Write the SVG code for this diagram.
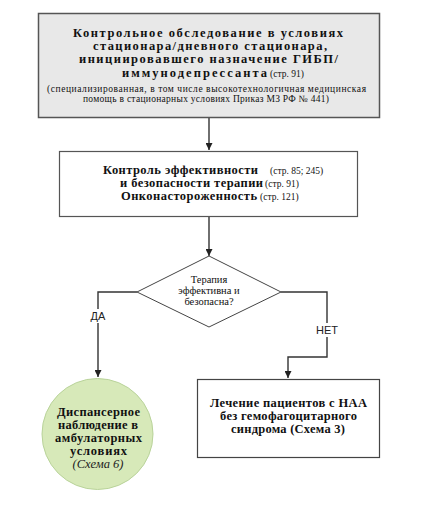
<svg xmlns="http://www.w3.org/2000/svg" width="422" height="506" viewBox="0 0 422 506">
<style>
.b{font-family:"Liberation Serif","DejaVu Serif",serif;font-weight:bold;font-size:12.5px;fill:#111}
.s{font-family:"Liberation Serif","DejaVu Serif",serif;font-size:9.5px;fill:#111}
.d{font-family:"Liberation Serif","DejaVu Serif",serif;font-size:10.5px;fill:#111}
.l{font-family:"Liberation Sans",Arial,sans-serif;font-size:11px;fill:#222}
.c{fill:none;stroke:#333;stroke-width:1.4}
</style>
<defs>
<marker id="ah" viewBox="0 0 10 10" refX="10" refY="5" markerWidth="7" markerHeight="7" markerUnits="userSpaceOnUse" orient="auto">
<path d="M0,0 L10,5 L0,10 z" fill="#222"/>
</marker>
</defs>
<rect width="422" height="506" fill="#fff"/>
<g id="connectors">
<path class="c" d="M209,118 V150" marker-end="url(#ah)"/>
<path class="c" d="M209,217 V256" marker-end="url(#ah)"/>
<path class="c" d="M137,292 H98 V377" marker-end="url(#ah)"/>
<path class="c" d="M281,292 H327 V357 H288 V378" marker-end="url(#ah)"/>
</g>
<g id="labels">
<rect x="86" y="309" width="24" height="14" fill="#fff"/>
<text class="l" x="98" y="320" text-anchor="middle">ДА</text>
<rect x="313" y="323" width="28" height="14" fill="#fff"/>
<text class="l" x="327" y="334" text-anchor="middle">НЕТ</text>
</g>
<g id="n1">
<rect x="38.5" y="13.5" width="341" height="104" fill="#e8e8e8" stroke="#555" stroke-width="1.5"/>
<text class="b" x="73" y="37" textLength="270" lengthAdjust="spacing">Контрольное обследование  в  условиях</text>
<text class="b" x="93" y="50" textLength="234" lengthAdjust="spacing">стационара/дневного стационара,</text>
<text class="b" x="79" y="63" textLength="259" lengthAdjust="spacing">инициировавшего назначение ГИБП/</text>
<text class="b" x="122" y="77" textLength="145" lengthAdjust="spacing">иммунодепрессанта</text>
<text class="s" x="270" y="77">(стр. 91)</text>
<text class="s" x="47" y="92" textLength="319" lengthAdjust="spacing">(специализированная, в том числе высокотехнологичная медицинская</text>
<text class="s" x="83" y="102" textLength="246" lengthAdjust="spacing">помощь в стационарных условиях Приказ МЗ РФ № 441)</text>
</g>
<g id="n2">
<rect x="59.5" y="151.5" width="298" height="65" fill="#fff" stroke="#555" stroke-width="1.2"/>
<text class="b" x="103" y="174" textLength="155" lengthAdjust="spacing">Контроль эффективности</text>
<text class="s" x="270" y="174">(стр. 85; 245)</text>
<text class="b" x="120" y="187" textLength="143" lengthAdjust="spacing">и безопасности терапии</text>
<text class="s" x="265" y="187">(стр. 91)</text>
<text class="b" x="121" y="200" textLength="136" lengthAdjust="spacing">Онконастороженность</text>
<text class="s" x="260" y="200">(стр. 121)</text>
</g>
<g id="n3">
<polygon points="209,256 281,292 209,327 137,292" fill="#fff" stroke="#444" stroke-width="1"/>
<text class="d" x="209" y="283" text-anchor="middle">Терапия</text>
<text class="d" x="209" y="294" text-anchor="middle">эффективна и</text>
<text class="d" x="209" y="305" text-anchor="middle">безопасна?</text>
</g>
<g id="n4">
<circle cx="97.5" cy="434" r="55.5" fill="#d7e9b9" stroke="#b9d39a" stroke-width="1"/>
<text class="b" x="57" y="416" textLength="83" lengthAdjust="spacing">Диспансерное</text>
<text class="b" x="58" y="429" textLength="80" lengthAdjust="spacing">наблюдение в</text>
<text class="b" x="55" y="442" textLength="87" lengthAdjust="spacing">амбулаторных</text>
<text class="b" x="70" y="455" textLength="57" lengthAdjust="spacing">условиях</text>
<text x="98" y="468" text-anchor="middle" style="font-family:'Liberation Serif','DejaVu Serif',serif;font-style:italic;font-size:12.5px;fill:#222">(Схема 6)</text>
</g>
<g id="n5">
<rect x="197.5" y="379.5" width="182" height="78" fill="#fff" stroke="#444" stroke-width="1.2"/>
<text class="b" x="210" y="407" textLength="157" lengthAdjust="spacing">Лечение пациентов с НАА</text>
<text class="b" x="220" y="420" textLength="137" lengthAdjust="spacing">без гемофагоцитарного</text>
<text class="b" x="231" y="433" textLength="114" lengthAdjust="spacing">синдрома (Схема 3)</text>
</g>
</svg>
